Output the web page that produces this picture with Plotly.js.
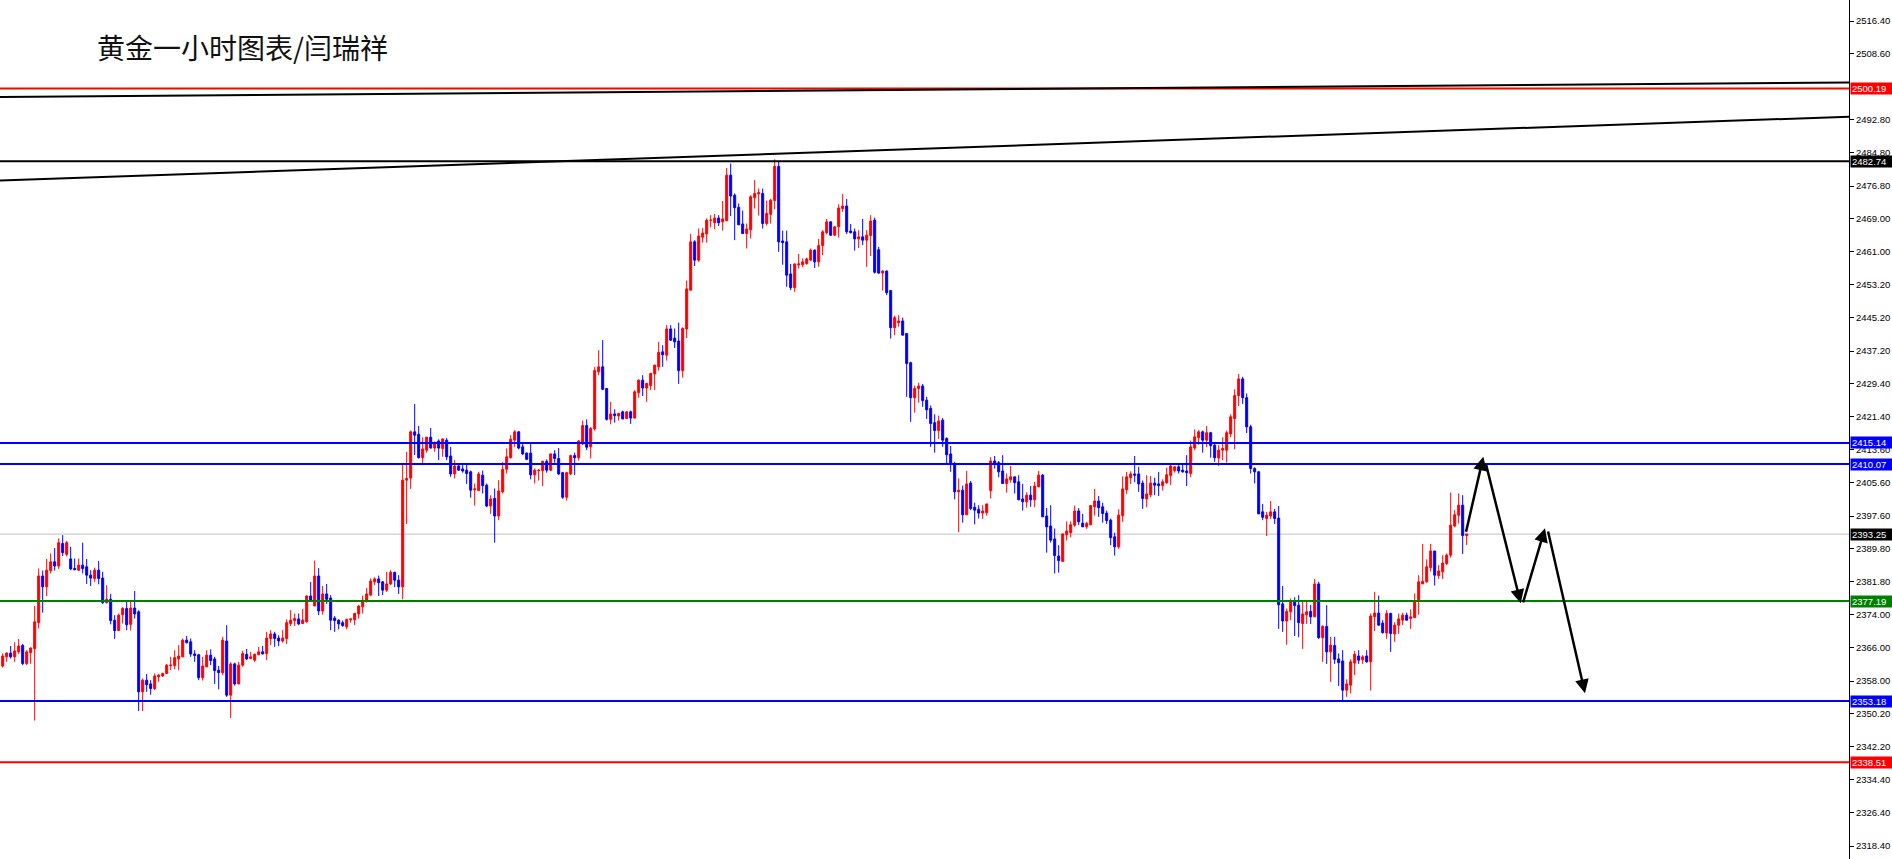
<!DOCTYPE html>
<html>
<head>
<meta charset="utf-8">
<script src="https://cdn.plot.ly/plotly-3.0.1.min.js"></script>
<style>html,body{margin:0;padding:0;background:#fff;}#chart{width:1892px;height:859px;}</style>
</head>
<body>
<div id="chart"></div>
<script>
// ---- data (hourly gold candles) ----
const openP = [
2361.6,2363.8,2364.7,2363.8,2365.0,2366.5,2362.2,2364.8,2365.8,2372.0,
2383.2,2380.6,2384.5,2386.6,2385.6,2391.0,2388.4,2387.3,2385.0,2384.6,
2385.8,2385.4,2383.4,2382.6,2384.6,2382.7,2376.8,2377.6,2372.6,2370.1,
2373.9,2375.4,2371.6,2375.5,2374.6,2355.4,2358.2,2357.3,2356.2,2359.0,
2359.2,2359.8,2361.7,2361.7,2363.3,2363.8,2367.8,2367.4,2364.5,2364.3,
2358.8,2361.4,2364.2,2363.3,2360.6,2360.0,2367.6,2354.6,2362.1,2357.3,
2361.8,2364.4,
2363.4,2363.0,2364.3,2365.0,2364.6,2368.2,2369.3,2368.3,2367.6,2368.2,
2371.8,2372.5,2372.9,2371.8,2372.2,2378.4,2376.0,2383.2,2374.8,2378.9,
2377.9,2373.1,2372.6,2372.0,2371.0,2372.7,2372.7,2374.1,2375.8,2377.4,
2378.6,2381.8,2382.5,2381.8,2379.8,2381.3,2384.1,2382.2,2380.6,2406.2,
2406.7,2417.8,2417.2,2411.6,2413.4,2416.5,2413.9,2415.6,2413.8,2415.8,
2412.0,2407.7,2409.6,2408.9,2408.6,2408.2,2403.9,2403.7,2407.4,2405.0,2400.0,2401.8,
2397.6,2403.4,2408.8,2411.6,2415.8,2417.8,2414.2,2412.7,2412.7,2407.5,
2408.5,2408.5,2410.7,2408.6,2412.5,2411.4,2408.0,2402.1,2407.7,2412.1,
2411.6,2414.9,2419.3,2414.2,2418.5,2432.2,2433.4,2428.2,2420.8,2422.1,
2421.6,2422.6,2421.0,2422.6,2421.1,2427.2,2430.2,2428.3,2428.9,2431.7,
2433.4,2437.0,2436.2,2442.5,2440.3,2439.6,2432.5,2442.5,2451.8,2463.4,
2459.0,2464.5,2465.3,2468.6,2468.0,2469.1,2468.2,2468.5,2479.4,2474.6,
2471.7,2467.7,2465.4,2466.3,2474.0,2474.9,2475.0,2467.8,2470.0,2473.3,
2481.5,2463.6,2463.4,2455.7,2452.4,2457.9,2457.9,2458.2,2459.0,2461.4,
2458.6,2462.5,2465.6,2468.2,2465.0,2467.0,2471.4,2472.0,2466.0,2465.8,
2464.1,2464.6,2463.8,2464.9,2468.6,2461.5,2455.9,2456.4,2451.7,2442.8,
2444.0,2444.4,2441.4,2434.4,2426.0,2428.2,2428.8,2425.4,2423.4,2420.0,
2418.1,2420.6,2416.2,2412.5,2410.2,2403.4,2403.8,2397.9,2405.5,2399.7,2399.2,2398.3,
2398.4,2403.7,2410.8,2410.4,2408.4,2405.4,2406.3,2407.0,2405.8,2401.7,
2401.0,2402.6,2401.5,2404.6,2407.4,2397.6,2395.2,2392.1,2388.0,2386.7,
2393.1,2393.6,2395.4,2398.8,2395.9,2395.0,2395.5,2399.8,2401.2,2399.8,
2398.3,2396.6,2392.6,2390.2,2397.7,2403.9,2406.8,2407.7,2407.7,2405.5,
2401.7,2402.7,2405.5,2405.3,2404.9,2405.6,2407.3,2408.5,2409.4,2408.6,
2408.4,2407.8,2413.9,2416.4,2417.8,2415.8,2417.6,2414.6,2411.5,2413.4,2413.4,
2417.3,2421.0,2426.5,2430.5,2426.0,2419.0,
2409.0,2408.2,2398.6,2397.0,2397.6,2398.6,2397.1,2376.5,2372.4,2374.6,
2377.1,2376.2,2371.8,2373.9,2374.7,2373.4,2381.3,2368.4,2371.1,2365.0,
2366.5,2363.3,2362.8,2355.8,2357.0,2362.3,2364.0,2363.1,2364.0,2362.6,
2373.4,2374.3,2371.9,2369.5,2374.2,2369.3,2371.4,2372.6,2373.8,2373.0,
2373.2,2377.2,2381.3,2381.8,2385.2,2389.2,2383.3,2384.2,2386.2,2388.2,
2395.2,2397.8,2400.2,2392.9
];
const highP = [
2364.6,2364.9,2366.4,2367.3,2368.1,2366.9,2365.4,2366.1,2376.0,2385.0,
2384.5,2387.3,2388.6,2389.9,2392.2,2393.0,2391.6,2390.2,2387.4,2387.4,
2391.2,2387.3,2384.6,2385.2,2386.8,2384.2,2381.0,2378.9,2373.8,2374.2,
2375.8,2377.2,2377.4,2379.6,2375.0,2358.6,2359.7,2358.2,2359.8,2359.7,
2360.0,2362.1,2363.8,2365.4,2366.6,2368.2,2368.8,2368.2,2365.4,2364.5,
2363.8,2365.4,2365.6,2363.8,2361.6,2368.6,2371.4,2362.5,2362.4,2362.6,
2365.3,2365.7,
2365.0,2364.6,2366.2,2366.4,2369.8,2370.2,2369.8,2369.0,2370.2,2372.8,
2375.0,2374.2,2374.2,2375.3,2378.6,2381.8,2386.9,2385.1,2380.8,2381.3,
2378.6,2373.6,2372.8,2372.5,2372.9,2372.9,2374.4,2376.2,2378.5,2380.3,
2382.6,2382.9,2383.3,2382.0,2384.2,2384.6,2384.2,2383.4,2409.8,2413.0,
2418.1,2424.5,2419.2,2416.5,2416.6,2418.7,2415.5,2416.0,2416.2,2416.3,
2414.2,2411.0,2410.1,2409.8,2410.2,2408.5,2405.4,2408.2,2408.5,2405.4,2402.6,2404.2,
2406.2,2410.6,2413.8,2417.0,2418.2,2418.0,2414.9,2412.8,2414.9,2409.0,
2408.8,2410.9,2411.2,2412.6,2413.4,2413.9,2408.2,2408.2,2412.3,2412.8,
2415.8,2420.5,2420.8,2419.0,2433.4,2437.4,2439.8,2428.3,2425.0,2423.2,
2422.4,2422.9,2422.8,2422.9,2427.8,2430.4,2431.4,2429.6,2432.0,2433.9,
2439.4,2438.6,2443.4,2443.4,2442.6,2444.0,2442.9,2454.1,2465.3,2463.8,
2466.6,2466.7,2469.0,2469.8,2470.1,2469.8,2473.2,2481.1,2482.2,2475.0,
2472.6,2470.9,2467.8,2474.6,2478.2,2476.2,2476.2,2473.3,2473.7,2483.2,
2482.6,2466.1,2466.1,2458.1,2458.2,2460.5,2459.4,2459.6,2461.8,2461.6,
2464.1,2466.2,2468.9,2468.3,2467.2,2472.4,2474.9,2473.7,2467.7,2466.6,
2466.2,2468.9,2466.2,2469.8,2469.2,2462.2,2456.5,2456.5,2451.8,2445.7,
2445.8,2445.2,2441.5,2434.6,2428.9,2429.6,2429.3,2426.2,2424.1,2422.0,
2421.7,2421.1,2416.5,2414.4,2410.6,2406.6,2404.9,2408.4,2406.0,2400.8,2400.2,2400.2,
2400.5,2411.7,2412.0,2410.8,2412.2,2407.8,2409.6,2407.0,2407.4,2405.3,
2403.3,2404.8,2405.8,2408.4,2407.7,2399.5,2400.2,2394.6,2390.6,2393.4,
2396.3,2396.3,2400.1,2399.5,2398.1,2396.2,2400.2,2404.1,2402.4,2400.8,
2398.9,2397.0,2393.6,2399.2,2407.1,2408.2,2408.3,2412.0,2409.4,2406.1,
2407.4,2407.2,2406.8,2408.2,2406.4,2409.2,2410.2,2409.6,2409.8,2410.2,
2412.2,2415.7,2418.4,2418.2,2418.1,2419.2,2417.8,2415.2,2414.6,2416.5,2418.1,
2422.0,2428.0,2431.7,2431.0,2427.0,2419.5,
2409.3,2408.4,2400.5,2398.6,2401.2,2399.3,2400.0,2380.8,2375.4,2377.8,
2378.1,2378.6,2377.3,2377.2,2376.3,2382.5,2381.8,2371.4,2376.2,2368.6,
2368.6,2364.6,2365.4,2358.4,2363.2,2365.2,2365.4,2364.2,2365.4,2374.2,
2379.4,2378.5,2372.6,2375.0,2374.4,2372.1,2374.2,2374.4,2374.4,2375.2,
2379.0,2383.4,2390.9,2387.2,2390.9,2389.2,2385.8,2388.2,2388.6,2403.2,
2399.0,2403.0,2402.6,2393.3
];
const lowP = [
2361.2,2362.6,2363.4,2362.6,2364.5,2361.8,2361.8,2362.1,2348.5,2370.6,
2374.4,2378.4,2383.8,2384.5,2384.9,2388.0,2387.9,2384.6,2384.6,2384.4,
2383.8,2381.3,2380.8,2381.8,2381.2,2376.5,2376.6,2371.6,2368.1,2370.0,
2371.8,2370.2,2370.1,2373.0,2350.8,2350.8,2355.4,2354.7,2355.8,2357.8,
2359.0,2359.7,2360.6,2360.8,2360.6,2363.7,2367.0,2363.8,2362.6,2358.2,
2358.1,2361.3,2361.8,2357.3,2356.0,2359.4,2354.2,2349.1,2356.9,2357.2,
2361.4,2363.0,
2363.2,2362.6,2364.2,2364.4,2363.0,2366.6,2366.2,2366.4,2367.2,2366.9,
2371.2,2371.2,2371.4,2371.7,2372.0,2377.0,2376.0,2373.8,2373.9,2376.5,
2370.2,2369.8,2370.4,2371.0,2370.4,2372.0,2371.4,2373.0,2374.2,2376.8,
2378.6,2381.0,2378.4,2378.6,2379.4,2381.0,2380.5,2378.9,2377.6,2395.7,
2404.1,2412.2,2411.4,2409.8,2412.8,2413.8,2413.0,2411.0,2411.8,2411.0,
2407.0,2406.6,2408.5,2408.0,2405.3,2402.0,2400.1,2403.7,2403.0,2399.7,2398.1,2391.2,
2396.6,2403.0,2407.8,2411.4,2414.2,2413.6,2412.2,2411.0,2406.4,2405.4,
2406.1,2404.8,2408.0,2408.4,2410.4,2407.4,2401.7,2401.3,2407.4,2407.4,
2410.9,2414.6,2413.4,2411.4,2418.1,2431.4,2427.8,2420.5,2419.6,2420.0,
2420.5,2420.8,2420.9,2419.7,2421.0,2426.0,2426.4,2425.0,2427.8,2427.8,
2432.5,2433.4,2434.9,2439.6,2437.9,2429.3,2430.8,2440.3,2451.8,2457.6,
2458.6,2463.2,2463.2,2466.9,2466.4,2467.2,2466.1,2468.3,2469.6,2463.8,
2467.4,2465.3,2461.8,2464.2,2471.4,2469.7,2466.6,2467.3,2467.8,2471.2,
2461.0,2457.9,2452.6,2451.8,2451.4,2457.0,2457.3,2457.9,2458.9,2457.1,
2457.4,2460.2,2465.2,2464.8,2464.8,2464.4,2470.6,2465.3,2465.4,2461.3,
2461.9,2462.6,2457.4,2460.0,2455.8,2455.7,2451.7,2450.6,2440.2,2441.0,
2443.0,2441.0,2426.2,2420.2,2422.4,2424.8,2423.8,2420.9,2414.2,2412.8,
2416.1,2414.2,2410.2,2408.2,2401.6,2393.7,2396.0,2397.8,2399.0,2395.6,2397.0,2396.9,
2397.7,2401.8,2409.0,2406.9,2405.3,2403.2,2405.6,2403.0,2401.4,2398.9,
2399.6,2399.8,2399.7,2404.5,2397.4,2388.8,2391.2,2383.8,2384.0,2386.6,
2391.7,2392.5,2395.0,2395.4,2395.0,2394.5,2395.4,2397.7,2397.4,2396.0,
2395.7,2390.6,2388.1,2389.7,2396.2,2402.9,2405.3,2405.7,2403.4,2399.3,
2399.7,2402.1,2402.6,2402.4,2403.7,2405.3,2405.0,2408.0,2407.8,2408.0,
2404.8,2406.9,2413.4,2414.7,2412.8,2414.1,2411.6,2410.6,2409.6,2411.0,2410.4,
2416.5,2413.6,2424.0,2424.5,2417.5,2407.8,
2405.4,2398.1,2396.6,2392.8,2396.9,2395.7,2370.5,2369.8,2366.7,2372.6,
2368.8,2368.5,2365.7,2371.7,2371.7,2373.4,2368.1,2362.6,2362.1,2357.8,
2362.1,2356.8,2353.4,2354.2,2355.0,2359.4,2362.1,2362.1,2362.4,2355.7,
2370.0,2371.3,2369.4,2368.1,2365.0,2367.4,2369.3,2371.4,2372.5,2370.5,
2373.2,2373.9,2381.3,2381.6,2384.3,2380.9,2382.5,2382.5,2385.8,2387.6,
2394.9,2395.8,2388.5,2390.6
];
const closeP = [
2364.0,2364.7,2363.8,2365.2,2366.4,2362.2,2365.0,2365.9,2372.2,2383.2,
2380.6,2384.6,2386.6,2385.6,2391.2,2388.8,2391.2,2384.9,2384.7,2385.8,
2385.0,2383.4,2382.7,2384.6,2382.6,2376.8,2377.6,2372.5,2370.1,2373.8,
2375.4,2371.5,2375.5,2374.1,2355.4,2358.2,2357.1,2356.2,2359.2,2359.4,
2359.8,2361.8,2361.8,2363.6,2364.0,2367.8,2367.2,2364.5,2364.1,2358.8,
2361.6,2364.2,2362.9,2360.5,2360.0,2367.8,2354.6,2362.1,2357.3,2361.8,
2364.6,2363.3,
2363.8,2364.4,2365.0,2364.5,2368.3,2369.3,2368.2,2367.6,2368.3,2372.0,
2372.6,2373.0,2371.7,2372.6,2378.4,2377.4,2383.2,2374.8,2378.9,2377.6,
2372.6,2372.5,2371.7,2371.3,2372.8,2372.9,2374.2,2376.0,2377.4,2378.9,
2382.0,2382.5,2381.6,2379.8,2381.3,2384.1,2382.2,2380.6,2406.2,2406.6,
2417.8,2417.0,2411.6,2413.7,2416.5,2413.9,2415.2,2413.9,2416.1,2411.8,
2407.7,2409.6,2408.6,2408.4,2407.8,2403.8,2404.1,2407.7,2404.9,2400.0,2401.7,2397.6,
2403.6,2408.8,2411.8,2416.0,2417.8,2413.9,2412.5,2411.2,2407.5,2408.6,
2408.6,2410.7,2408.6,2412.5,2411.4,2407.7,2402.1,2408.0,2412.1,2411.6,
2415.6,2419.3,2414.1,2418.6,2432.5,2433.4,2428.0,2420.8,2422.1,2421.7,
2422.2,2420.9,2422.6,2421.1,2427.4,2430.2,2428.3,2429.4,2431.8,2433.8,
2436.9,2436.3,2442.5,2439.8,2439.4,2432.5,2442.6,2452.1,2463.4,2459.0,
2464.8,2465.5,2468.6,2468.6,2469.1,2468.0,2468.9,2479.4,2474.4,2471.6,
2467.5,2465.4,2466.5,2474.2,2475.0,2475.2,2467.8,2470.2,2473.4,2481.5,
2463.4,2463.2,2455.4,2452.4,2458.1,2458.1,2458.6,2459.3,2461.4,2458.6,
2462.5,2465.8,2468.2,2465.0,2467.0,2471.5,2472.0,2465.8,2465.6,2464.1,
2464.6,2463.8,2465.0,2468.4,2456.1,2455.9,2456.4,2451.2,2442.8,2445.2,
2444.4,2441.0,2434.2,2426.0,2428.2,2428.8,2425.3,2423.1,2419.8,2418.1,
2420.4,2415.8,2412.3,2410.1,2403.4,2403.8,2397.9,2405.3,2399.4,2399.0,2398.3,2398.8,
2400.5,2410.8,2410.2,2408.2,2405.4,2406.5,2407.0,2405.6,2401.5,2401.0,
2402.6,2401.5,2404.8,2407.4,2397.4,2395.0,2391.8,2388.1,2386.9,2393.3,
2394.0,2395.5,2398.8,2396.2,2395.0,2395.8,2400.1,2401.2,2399.6,2398.2,
2396.5,2392.4,2390.2,2397.8,2404.1,2407.0,2407.7,2407.4,2405.3,2401.8,
2402.9,2405.5,2405.0,2404.9,2405.8,2407.5,2409.6,2409.4,2408.4,2408.2,
2408.0,2414.2,2416.6,2417.8,2415.8,2417.6,2414.5,2411.6,2413.4,2413.8,2417.6,
2421.4,2426.5,2430.5,2426.0,2419.0,2409.0,
2408.2,2398.1,2397.3,2397.8,2398.6,2397.0,2376.3,2372.4,2374.7,2377.1,
2376.1,2372.0,2374.1,2374.6,2373.4,2381.3,2368.4,2371.1,2365.0,2366.6,
2363.2,2362.4,2355.8,2357.3,2362.6,2364.4,2363.0,2363.8,2362.6,2373.6,
2374.3,2371.4,2369.6,2374.2,2369.4,2371.4,2372.9,2373.8,2372.6,2373.4,
2377.2,2381.8,2381.9,2385.4,2389.2,2383.4,2384.4,2386.3,2388.2,2395.4,
2397.9,2400.2,2392.9,2393.3
];

// price axis tick labels (MT4 style)
const tickValues = [2516.40,2508.60,2492.80,2484.80,2476.80,2469.00,2461.00,2453.20,2445.20,2437.20,
  2429.40,2421.40,2413.60,2405.60,2397.60,2389.80,2381.80,2374.00,2366.00,2358.00,2350.20,2342.20,
  2334.40,2326.40,2318.40];

// horizontal levels drawn on the chart
const levelPrices = [2500.19, 2482.74, 2415.14, 2410.07, 2393.25, 2377.19, 2353.18, 2338.51];
const levelColors = ['#ff0000', '#000000', '#0000ff', '#0000ff', '#c0c0c0', '#008000', '#0000ff', '#ff0000'];
const levelWidths = [2, 2, 2, 2, 1, 2, 2, 2];
const labelBg = ['#ff0000', '#000000', '#0000ff', '#0000ff', '#000000', '#008000', '#0000ff', '#ff0000'];

// sloping trend lines: [x0, price0, x1, price1]
const trendLines = [
  [-0.67, 2498.16, 461.58, 2501.64],
  [-0.67, 2478.12, 461.58, 2493.43]
];

// forecast arrow path: tail -> head
const arrowTail = [[365.76, 2393.46], [370.76, 2410.3], [380.0, 2376.5], [386.26, 2394.25]];
const arrowHead = [[370.16, 2411.84], [379.51, 2376.66], [385.58, 2394.65], [395.58, 2355.06]];

const titleText = '黄金一小时图表/闫瑞祥';

const xIdx = openP.map((_, i) => i);

const trace = {
  type: 'candlestick',
  x: xIdx, open: openP, high: highP, low: lowP, close: closeP,
  increasing: {line: {color: '#ff0000', width: 1}, fillcolor: '#ff0000'},
  decreasing: {line: {color: '#0000ff', width: 1}, fillcolor: '#0000ff'},
  whiskerwidth: 0,
  hoverinfo: 'skip',
  showlegend: false
};

const shapes = [];
levelPrices.forEach((p, i) => {
  shapes.push({type: 'line', xref: 'paper', yref: 'y', x0: 0, x1: 1, y0: p, y1: p,
    line: {color: levelColors[i], width: levelWidths[i]}, layer: i === 4 ? 'below' : 'above'});
});
trendLines.forEach(t => {
  shapes.push({type: 'line', xref: 'x', yref: 'y', x0: t[0], y0: t[1], x1: t[2], y1: t[3],
    line: {color: '#000000', width: 2}});
});

const annotations = [];
annotations.push({
  xref: 'paper', yref: 'paper', x: 95 / 1849, y: 1 - 47 / 859, xanchor: 'left', yanchor: 'middle',
  text: titleText, showarrow: false,
  font: {family: 'Noto Sans CJK SC, sans-serif', size: 28, color: '#111111'}
});
levelPrices.forEach((p, i) => {
  annotations.push({
    xref: 'paper', yref: 'y', x: 1, y: p, xanchor: 'left', yanchor: 'middle', xshift: 1,
    text: p.toFixed(2), showarrow: false, bgcolor: labelBg[i], borderpad: 1,
    width: 40, height: 9, align: 'left',
    font: {family: 'Liberation Sans, Arial, sans-serif', size: 9.5, color: '#ffffff'}
  });
});
arrowTail.forEach((t, i) => {
  annotations.push({
    xref: 'x', yref: 'y', axref: 'x', ayref: 'y',
    x: arrowHead[i][0], y: arrowHead[i][1], ax: t[0], ay: t[1],
    text: '', showarrow: true, arrowhead: 2, arrowsize: 1.1, arrowwidth: 2.5, arrowcolor: '#000000'
  });
});

const layout = {
  width: 1892, height: 859,
  margin: {l: 0, r: 43, t: 0, b: 0, pad: 0},
  paper_bgcolor: '#ffffff', plot_bgcolor: '#ffffff',
  showlegend: false,
  boxgap: 0.5, boxgroupgap: 0,
  xaxis: {range: [-0.67, 461.58], showgrid: false, zeroline: false, showticklabels: false,
    ticks: '', showline: false, rangeslider: {visible: false}, fixedrange: true},
  yaxis: {range: [2315.28, 2521.44], side: 'right', showgrid: false, zeroline: false,
    showline: true, linecolor: '#000000', linewidth: 1,
    ticks: 'outside', ticklen: 4, tickcolor: '#000000', tickwidth: 1,
    tickmode: 'array', tickvals: tickValues, ticktext: tickValues.map(v => v.toFixed(2)),
    tickfont: {family: 'Liberation Sans, Arial, sans-serif', size: 9.5, color: '#000000'},
    fixedrange: true},
  shapes: shapes,
  annotations: annotations,
  hovermode: false
};

Plotly.newPlot('chart', [trace], layout, {displayModeBar: false, staticPlot: true});
</script>
</body>
</html>
